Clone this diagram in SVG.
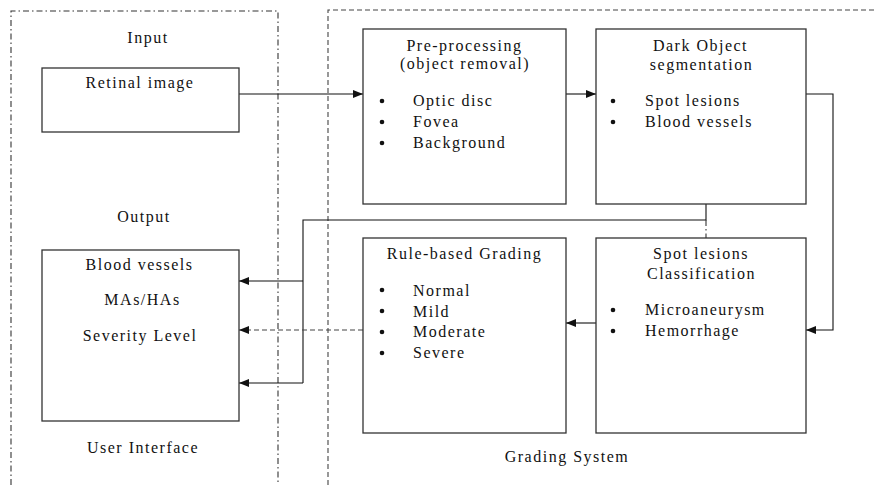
<svg xmlns="http://www.w3.org/2000/svg" width="874" height="485" viewBox="0 0 874 485">
<style>
text{font-family:"Liberation Serif","Times New Roman",serif;font-size:16px;letter-spacing:1.5px;fill:#111}
.c{text-anchor:middle}
.box{fill:#fff;stroke:#333;stroke-width:1.3}
.ln{fill:none;stroke:#111;stroke-width:1.1}
.dash{fill:none;stroke:#444;stroke-width:1.1;stroke-dasharray:5,3}
.dd{fill:none;stroke:#333;stroke-width:1.1;stroke-dasharray:6,3,1.5,3}
.b{fill:#111}
</style>
<defs>
<marker id="ah" viewBox="0 0 10 8" refX="10" refY="4" markerWidth="10" markerHeight="8" markerUnits="userSpaceOnUse" orient="auto">
<path d="M0,0 L10,4 L0,8 Z" fill="#111"/>
</marker>
</defs>
<rect width="874" height="485" fill="#fff"/>
<g id="frames">
<path class="dd" d="M11,485 V11 H278 V485"/>
<path class="dash" d="M328,485 V10 H874"/>
<text x="148" y="43" class="c">Input</text>
<text x="144" y="222" class="c">Output</text>
<text x="143" y="453" class="c">User Interface</text>
<text x="567" y="462" class="c">Grading System</text>
</g>
<g id="connectors">
<path class="ln" d="M239,94 H363" marker-end="url(#ah)"/>
<path class="ln" d="M566,94 H596" marker-end="url(#ah)"/>
<path class="ln" d="M806,94 H833 V330 H806" marker-end="url(#ah)"/>
<path class="ln" d="M596,323 H566" marker-end="url(#ah)"/>
<path class="ln" d="M706,204 V220 H303 V383"/>
<path class="dd" d="M706,220 V238"/>
<path class="ln" d="M303,281 H239" marker-end="url(#ah)"/>
<path class="ln" d="M303,383 H239" marker-end="url(#ah)"/>
<path class="dash" d="M363,330 H239" marker-end="url(#ah)"/>
</g>
<g id="retinal">
<rect class="box" x="42" y="68" width="197" height="64"/>
<text x="140" y="88" class="c">Retinal image</text>
</g>
<g id="output">
<rect class="box" x="42" y="250" width="197" height="171"/>
<text x="139.5" y="270" class="c">Blood vessels</text>
<text x="142.5" y="305" class="c">MAs/HAs</text>
<text x="140" y="341" class="c">Severity Level</text>
</g>
<g id="preprocessing">
<rect class="box" x="363" y="29" width="203" height="175"/>
<text x="464.5" y="51" class="c">Pre-processing</text>
<text x="465" y="69" class="c">(object removal)</text>
<circle class="b" cx="382" cy="101" r="2.3"/><text x="413" y="106">Optic disc</text>
<circle class="b" cx="382" cy="122" r="2.3"/><text x="413" y="127">Fovea</text>
<circle class="b" cx="382" cy="143" r="2.3"/><text x="413" y="148">Background</text>
</g>
<g id="darkobject">
<rect class="box" x="596" y="29" width="210" height="175"/>
<text x="700.5" y="51" class="c">Dark Object</text>
<text x="701.5" y="70" class="c">segmentation</text>
<circle class="b" cx="613" cy="101" r="2.3"/><text x="645" y="106">Spot lesions</text>
<circle class="b" cx="613" cy="122" r="2.3"/><text x="645" y="127">Blood vessels</text>
</g>
<g id="grading">
<rect class="box" x="363" y="238" width="203" height="195"/>
<text x="464.5" y="259" class="c">Rule-based Grading</text>
<circle class="b" cx="382" cy="290" r="2.3"/><text x="413" y="296">Normal</text>
<circle class="b" cx="382" cy="311" r="2.3"/><text x="413" y="317">Mild</text>
<circle class="b" cx="382" cy="332" r="2.3"/><text x="413" y="337">Moderate</text>
<circle class="b" cx="382" cy="353" r="2.3"/><text x="413" y="358">Severe</text>
</g>
<g id="classification">
<rect class="box" x="596" y="238" width="210" height="195"/>
<text x="701" y="259" class="c">Spot lesions</text>
<text x="701.5" y="279" class="c">Classification</text>
<circle class="b" cx="613" cy="310" r="2.3"/><text x="645" y="315">Microaneurysm</text>
<circle class="b" cx="613" cy="331" r="2.3"/><text x="645" y="336">Hemorrhage</text>
</g>
</svg>
